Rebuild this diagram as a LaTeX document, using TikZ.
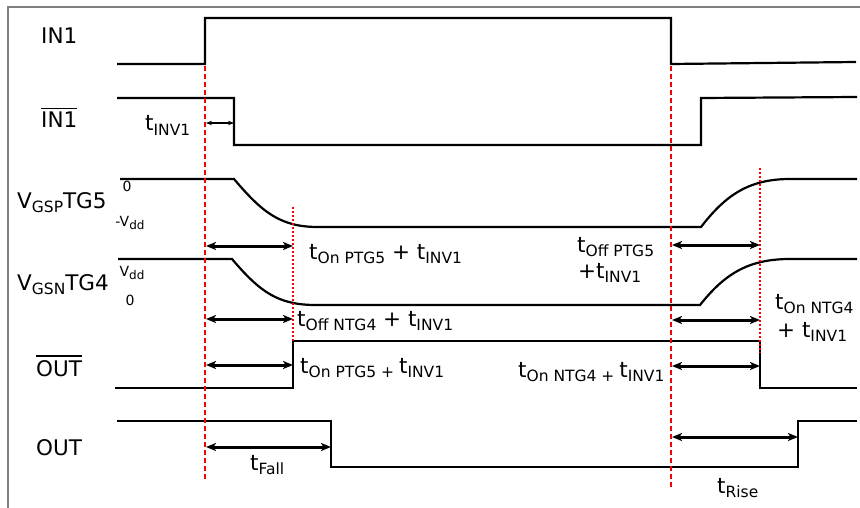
\documentclass[tikz,border=0pt]{standalone}
\usepackage{fontspec}
\setmainfont{DejaVu Sans}
\usetikzlibrary{arrows.meta}
\newcommand\lowsub[1]{\raisebox{-4.5pt}{\fontsize{15.5}{15.5}\selectfont #1}}
\newcommand\tinysub[1]{\raisebox{-3.5pt}{\fontsize{12}{12}\selectfont #1}}
\newcommand\barred[1]{\setbox0\hbox{#1}\vbox{\hrule height 1.8pt\kern3pt\box0}}
\begin{document}
\begin{tikzpicture}[x=1pt,y=-1pt,
  sig/.style={line width=2.2pt,line join=miter},
  frameline/.style={line width=1.8pt,draw=gray},
  redmain/.style={line width=2.8pt,draw=red,dash pattern=on 5pt off 3pt},
  redthin/.style={line width=1.2pt,draw=red,dash pattern=on 2pt off 2pt},
  dbl/.style={line width=3pt,{Stealth[length=10pt,width=8pt,inset=2.5pt]}-{Stealth[length=10pt,width=8pt,inset=2.5pt]}},
  thindbl/.style={line width=1.1pt,{Stealth[length=6pt,width=4.5pt]}-{Stealth[length=6pt,width=4.5pt]}},
  lbl/.style={font=\fontsize{21.5}{21.5}\selectfont,inner sep=0pt,anchor=base west},
  small/.style={font=\fontsize{14}{14}\selectfont,inner sep=0pt}]
\useasboundingbox (0,0) rectangle (860,508);
\fill[white] (0,0) rectangle (860,508);
% frame
\draw[frameline] (8,508) -- (8,7) -- (860,7);
% waveforms
\draw[sig] (117,64) -- (205,64) -- (205,18) -- (671,18) -- (671,64) -- (856,62);
\draw[sig] (117,98) -- (234,98) -- (234,145) -- (701,145) -- (701,98) -- (857,97);
\draw[sig] (120,179) -- (234,179) .. controls (262,212) and (280,227) .. (318,227) -- (701,227)
  .. controls (725,196) and (748,179) .. (790,179) -- (857,179);
\draw[sig] (118,259) -- (232,259) .. controls (260,292) and (278,305) .. (316,305) -- (700,305)
  .. controls (724,275) and (747,259) .. (790,259) -- (857,259);
\draw[sig] (115,388) -- (293,388) -- (293,341) -- (760,341) -- (760,388) -- (857,388);
\draw[sig] (117,421) -- (331,421) -- (331,467) -- (798,467) -- (798,421) -- (857,421);
% red markers
\draw[redmain] (205,66) -- (205,480);
\draw[redmain] (671,66) -- (671,488);
\draw[redthin] (293,207) -- (293,341);
\draw[redthin] (760,168) -- (760,353);
% arrow end coordinates
\coordinate (a1l) at (206,123); \coordinate (a1r) at (234,123);
\coordinate (a2l) at (206,246); \coordinate (a2r) at (293,246);
\coordinate (a3l) at (672,245); \coordinate (a3r) at (760,245);
\coordinate (a4l) at (206,319); \coordinate (a4r) at (293,319);
\coordinate (a5l) at (672,320); \coordinate (a5r) at (760,320);
\coordinate (a6l) at (206,365); \coordinate (a6r) at (293,365);
\coordinate (a7l) at (672,366); \coordinate (a7r) at (760,366);
\coordinate (a8l) at (206,447); \coordinate (a8r) at (331,447);
\coordinate (a9l) at (672,437); \coordinate (a9r) at (798,437);
\draw[thindbl] (a1l) -- (a1r);
\draw[dbl] (a2l) -- (a2r);
\draw[dbl] (a3l) -- (a3r);
\draw[dbl] (a4l) -- (a4r);
\draw[dbl] (a5l) -- (a5r);
\draw[dbl] (a6l) -- (a6r);
\draw[dbl] (a7l) -- (a7r);
\draw[dbl] (a8l) -- (a8r);
\draw[dbl] (a9l) -- (a9r);
% signal names
\node[lbl] (nin) at (41,44) {IN1};
\node[lbl] (ninb) at (41,128) {\barred{IN1}};
\node[lbl] (ngsp) at (17,208) {V\lowsub{GSP}TG5};
\node[lbl] (ngsn) at (17,290) {V\lowsub{GSN}TG4};
\node[lbl] (noutb) at (36,376) {\barred{OUT}};
\node[lbl] (nout) at (36,455) {OUT};
% level marks
\node[small] (z1) at (127,186) {0};
\node[small] (v1) at (130,223) {-V\tinysub{dd}};
\node[small] (v2) at (132,273) {V\tinysub{dd}};
\node[small] (z2) at (130,300) {0};
% timing labels
\node[lbl] (tinv) at (145,131) {t\lowsub{INV1}};
\node[lbl] (ton1) at (309,259) {t\lowsub{On PTG5} + t\lowsub{INV1}};
\node[lbl] (toff1) at (577,252) {t\lowsub{Off PTG5}};
\node[lbl] (toff1b) at (578,278) {+t\lowsub{INV1}};
\node[lbl] (toff2) at (297,326) {t\lowsub{Off NTG4} + t\lowsub{INV1}};
\node[lbl] (ton2) at (775,309) {t\lowsub{On NTG4}};
\node[lbl] (ton2b) at (777,337) {+ t\lowsub{INV1}};
\node[lbl] (ton3) at (300,373) {t\lowsub{On PTG5 + }t\lowsub{INV1}};
\node[lbl] (ton4) at (518,377) {t\lowsub{On NTG4 + }t\lowsub{INV1}};
\node[lbl] (tfall) at (250,470) {t\lowsub{Fall}};
\node[lbl] (trise) at (717,493) {t\lowsub{Rise}};
\end{tikzpicture}
\end{document}
